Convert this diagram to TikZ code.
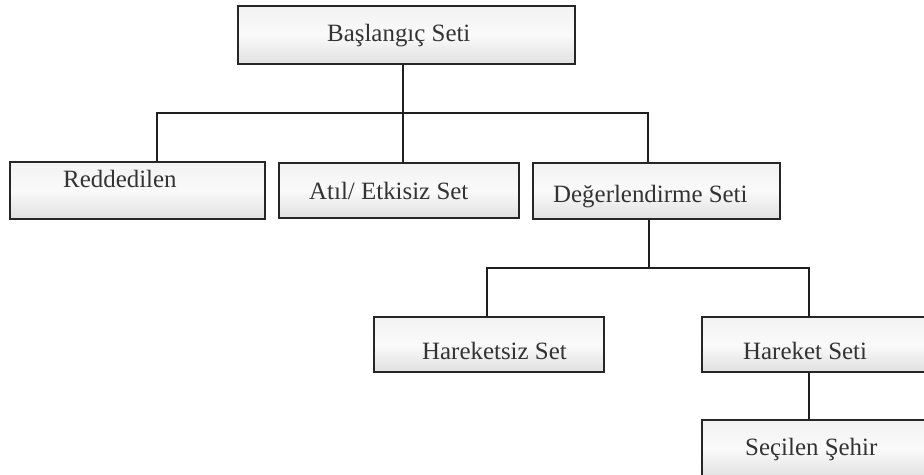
\documentclass[tikz,border=0pt]{standalone}
\usepackage{fontspec}
\setmainfont{Liberation Serif}
\begin{document}
\begin{tikzpicture}[x=1bp,y=-1bp,
  setbox/.style={draw=black!85, line width=1.4bp, rectangle, inner sep=0pt,
    top color=gray!10, bottom color=gray!24, middle color=gray!4},
  settext/.style={anchor=base west, inner sep=0pt, text=black!80,
    font=\fontsize{25}{30}\selectfont},
  link/.style={draw=black!88, line width=1.4bp}]
\useasboundingbox (0,0) rectangle (924,475);
\clip (0,0) rectangle (924,475);

% boxes
\node[setbox, minimum width=337bp, minimum height=58bp] (start) at (406.5,35) {};
\node[setbox, minimum width=255bp, minimum height=57bp] (rej) at (137.5,190.5) {};
\node[setbox, minimum width=240bp, minimum height=55bp] (idle) at (399,190.5) {};
\node[setbox, minimum width=247bp, minimum height=56bp] (eval) at (656.5,191) {};
\node[setbox, minimum width=230bp, minimum height=55bp] (still) at (489,344.5) {};
\node[setbox, minimum width=233bp, minimum height=55bp] (move) at (818.5,344.5) {};
\node[setbox, minimum width=233bp, minimum height=58bp] (chosen) at (818.5,449) {};

% labels
\node[settext] (tstart) at (327,42) {Başlangıç Seti};
\node[settext] (trej) at (63,188) {Reddedilen};
\node[settext] (tidle) at (309,200) {Atıl/ Etkisiz Set};
\node[settext] (teval) at (553,203) {Değerlendirme Seti};
\node[settext] (tstill) at (422,360) {Hareketsiz Set};
\node[settext] (tmove) at (743,360) {Hareket Seti};
\node[settext] (tchosen) at (745,455) {Seçilen Şehir};

% branch points
\coordinate (b1) at (403,113);
\coordinate (b1l) at (157,113);
\coordinate (b1r) at (648,113);
\coordinate (b2) at (649,268);
\coordinate (b2l) at (487,268);
\coordinate (b2r) at (809,268);

% connectors
\draw[link] (b1 |- start.south) -- (b1);
\draw[link] (b1l |- rej.north) -- (b1l) -- (b1r) -- (b1r |- eval.north);
\draw[link] (b1) -- (b1 |- idle.north);
\draw[link] (b2 |- eval.south) -- (b2);
\draw[link] (b2l |- still.north) -- (b2l) -- (b2r) -- (b2r |- move.north);
\draw[link] (b2r |- move.south) -- (b2r |- chosen.north);
\end{tikzpicture}
\end{document}
